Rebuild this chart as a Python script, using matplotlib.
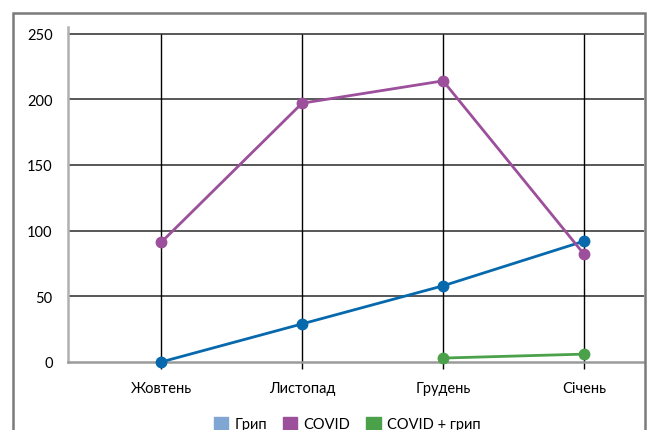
import matplotlib.pyplot as plt
from matplotlib.patches import Patch, Rectangle

plt.rcParams['font.family'] = ['Lato', 'DejaVu Sans']

months = ['Жовтень', 'Листопад', 'Грудень', 'Січень']
flu = [0, 29, 58, 92]
covid = [91, 197, 214, 82]
covid_flu_months = ['Грудень', 'Січень']
covid_flu = [3, 6]
y_ticks = [0, 50, 100, 150, 200, 250]

c_flu_line = '#0669ad'
c_flu_patch = '#80a7d3'
c_covid = '#9c4f9a'
c_both = '#4aa14a'

fig = plt.figure(figsize=(6.48, 4.31), dpi=100)
# outer frame around the chart
fig.patches.append(Rectangle((13 / 648, -0.05), 632 / 648, 1.05 - 14 / 431,
                             transform=fig.transFigure, fill=False,
                             edgecolor='#7a7a7a', linewidth=1.8))
ax = fig.add_axes([68 / 648, 1 - 363 / 431, 576 / 648, (363 - 28) / 431])

x = list(range(len(months)))
x_both = [months.index(m) for m in covid_flu_months]

ax.set_xlim(-0.66, 3.425)
ax.set_ylim(0, 255)

# grid
for yv in y_ticks[1:]:
    ax.axhline(yv, color='#2a2a2a', linewidth=1.1, zorder=1)
ax.vlines(x, 0, y_ticks[-1], color='black', linewidth=1.0, zorder=1)

ax.plot(x, flu, color=c_flu_line, linewidth=2.0, marker='o', markersize=7.5,
        zorder=3, clip_on=False)
ax.plot(x, covid, color=c_covid, linewidth=2.0, marker='o', markersize=7.5,
        zorder=3, clip_on=False)
ax.plot(x_both, covid_flu, color=c_both, linewidth=2.0, marker='o', markersize=7.5,
        zorder=3, clip_on=False)

for s in ['top', 'right']:
    ax.spines[s].set_visible(False)
ax.spines['left'].set_color('#b0b0b0')
ax.spines['left'].set_linewidth(1.8)
ax.spines['bottom'].set_color('#9a9a9a')
ax.spines['bottom'].set_linewidth(1.8)

ax.set_xticks(x)
ax.set_xticklabels(months, fontsize=10.5)
ax.set_yticks(y_ticks)
ax.set_yticklabels([str(v) for v in y_ticks], fontsize=10.5)
ax.tick_params(axis='x', length=5, width=1, color='black', pad=9)
ax.tick_params(axis='y', length=0, pad=11)

handles = [Patch(color=c_flu_patch, label='Грип'),
           Patch(color=c_covid, label='COVID'),
           Patch(color=c_both, label='COVID + грип')]
fig.legend(handles=handles, loc='center', bbox_to_anchor=(347 / 648, 1 - 425 / 431),
           ncol=3, frameon=False, fontsize=10.5, handlelength=1.0, handleheight=1.0,
           handletextpad=0.4, columnspacing=1.1)

fig.savefig('out.png', dpi=100)
